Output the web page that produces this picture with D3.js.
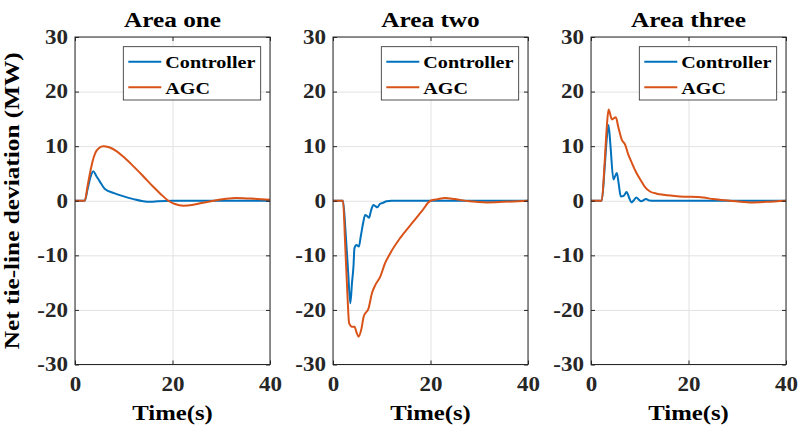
<!DOCTYPE html>
<html lang="en">
<head>
<meta charset="utf-8">
<title>Net tie-line deviation</title>
<script src="https://cdn.jsdelivr.net/npm/d3@7"></script>
<style>
body { margin: 0; background: white; }
text { font-family: "Liberation Serif", "Times New Roman", serif; font-weight: bold; }
</style>
</head>
<body>
<svg id="chart" width="798" height="426"></svg>
<script>

// ---- data ----
var panelTitles = ["Area one", "Area two", "Area three"]
var seriesNames = ["Controller", "AGC"]
var seriesColors = ["#0072BD", "#D95319"]
var xTicks = [0, 20, 40]
var yTicks = [-30, -20, -10, 0, 10, 20, 30]

// area one
var oneCtrlTime = [0, 2, 2.6, 3.2, 3.75, 4.4, 5.1, 6.2, 8, 10, 12, 14, 15.5, 17, 20, 40]
var oneCtrlVal  = [0, 0, 2.2, 4.4, 5.4, 4.5, 3.5, 2.1, 1.4, 0.8, 0.3, -0.1, -0.2, -0.1, 0, 0]
var oneAgcTime  = [0, 2, 2.6, 3.2, 3.6, 4.2, 5, 5.8, 7, 8.5, 10, 12, 14, 16, 17.5, 19, 20.5, 22.2, 24, 26, 29, 33, 36, 40]
var oneAgcVal   = [0, 0, 2.8, 5.6, 7.2, 8.8, 9.7, 10, 9.8, 9.1, 8.0, 6.3, 4.5, 2.6, 1.3, 0.1, -0.6, -0.9, -0.8, -0.4, 0.1, 0.5, 0.4, 0.2]

// area two
var twoCtrlTime = [0, 2.05, 2.6, 3.1, 3.55, 3.9, 4.2, 4.4, 4.8, 5.3, 5.7, 6.2, 6.6, 7.0, 7.4, 7.8, 8.3, 8.7, 9.1, 9.6, 10.2, 11, 12, 14, 20, 40]
var twoCtrlVal  = [0, 0, -6, -13, -18.8, -15, -12, -8.7, -8.1, -8.4, -6.5, -4.0, -2.6, -2.8, -3.1, -1.8, -0.8, -1.0, -1.2, -0.6, -0.4, -0.1, 0, 0, 0, 0]
var twoAgcTime  = [0, 2.05, 2.5, 3.0, 3.3, 3.9, 4.4, 4.9, 5.25, 5.8, 6.3, 7.3, 8.0, 8.7, 9.7, 10.7, 11.75, 13.8, 16.5, 18.3, 20, 21.5, 23, 25, 28, 31.6, 35, 40]
var twoAgcVal   = [0, 0, -8, -18, -22.4, -23.1, -23.1, -24.3, -24.9, -23.6, -21.2, -19.7, -16.9, -15.4, -13.9, -11.4, -9.6, -6.8, -3.8, -1.8, 0, 0.3, 0.5, 0.3, -0.1, -0.3, -0.2, 0]

// area three
var threeCtrlTime = [0, 2.2, 2.8, 3.2, 3.6, 4.0, 4.6, 5.0, 5.3, 5.7, 6.1, 6.7, 7.3, 7.8, 8.3, 8.8, 9.3, 9.8, 10.3, 11.3, 12, 13, 40]
var threeCtrlVal  = [0, 0, 6, 11, 13.9, 10, 3.9, 4.6, 5.1, 3.0, 0.8, 0.9, 1.6, 0.6, -0.3, 0.1, 0.6, 0.2, -0.1, 0.3, 0.05, 0, 0]
var threeAgcTime  = [0, 2.2, 2.8, 3.2, 3.6, 4.3, 5.1, 5.6, 6.3, 7.0, 7.6, 8.4, 9.2, 10.1, 11, 12.1, 13.5, 14.9, 18.2, 23, 25, 28.5, 32.6, 36, 40]
var threeAgcVal   = [0, 0, 7, 13, 16.7, 14.9, 15.3, 13.5, 11.2, 10.3, 8.6, 6.9, 5.3, 3.9, 2.6, 1.7, 1.3, 1.1, 0.8, 0.6, 0.3, 0, -0.3, -0.2, 0]

// ---- layout ----
var panelLefts = [75, 333, 591]
var panelWidth = 195
var plotTop = 37, plotBottom = 364.5
var stretch = 1.15   // text in the figure is wider than plain Times

var svg = d3.select("#chart")

// matlab prints a plain hyphen, not the unicode minus d3 uses
var plainNum = function(d){ return String(d) }

function wideText(sel, x, y, rotate){
  // place a text and widen it along its own direction
  var t = "translate(" + x + "," + y + ")"
  if (rotate) t += " rotate(" + rotate + ")"
  return sel.attr("transform", t + " scale(" + stretch + ",1)")
}

function drawPanel(i, ctrlT, ctrlV, agcT, agcV){
  var left = panelLefts[i]
  var right = left + panelWidth

  var x = d3.scaleLinear().domain([0, 40]).range([left, right])
  var y = d3.scaleLinear().domain([-30, 30]).range([plotBottom, plotTop])

  var g = svg.append("g").attr("class", "panel")

  // grid
  g.append("g")
    .attr("transform", "translate(0," + plotBottom + ")")
    .call(d3.axisBottom(x).tickValues(xTicks).tickSize(-(plotBottom - plotTop)).tickFormat(""))
    .call(function(a){ a.select(".domain").remove() })
    .selectAll("line").attr("stroke", "#e2e2e2")
  g.append("g")
    .attr("transform", "translate(" + left + ",0)")
    .call(d3.axisLeft(y).tickValues(yTicks).tickSize(-panelWidth).tickFormat(""))
    .call(function(a){ a.select(".domain").remove() })
    .selectAll("line").attr("stroke", "#e2e2e2")

  // curves
  var line = d3.line()
    .x(function(d){ return x(d[0]) })
    .y(function(d){ return y(d[1]) })
    .curve(d3.curveMonotoneX)

  var series = [d3.zip(ctrlT, ctrlV), d3.zip(agcT, agcV)]
  g.selectAll(".curve").data(series).enter().append("path")
    .attr("class", "curve")
    .attr("fill", "none")
    .attr("stroke", function(d, k){ return seriesColors[k] })
    .attr("stroke-width", 2)
    .attr("stroke-linejoin", "round")
    .attr("d", line)

  // axes, ticks pointing inward like matlab
  var xb = g.append("g")
    .attr("transform", "translate(0," + plotBottom + ")")
    .attr("color", "#262626")
    .call(d3.axisBottom(x).tickValues(xTicks).tickFormat(plainNum)
      .tickSizeInner(-4).tickSizeOuter(0).tickPadding(12))
  xb.attr("font-size", 20)
  xb.selectAll("text").attr("fill", "#262626").attr("transform", "scale(" + stretch + ",1)")

  var yl = g.append("g")
    .attr("transform", "translate(" + left + ",0)")
    .attr("color", "#262626")
    .call(d3.axisLeft(y).tickValues(yTicks).tickFormat(plainNum)
      .tickSizeInner(-4).tickSizeOuter(0).tickPadding(7))
  yl.attr("font-size", 20)
  yl.selectAll("text").attr("fill", "#262626")
    .attr("x", -7 / stretch)
    .attr("transform", "scale(" + stretch + ",1)")

  g.append("g")
    .attr("transform", "translate(0," + plotTop + ")")
    .attr("color", "#262626")
    .call(d3.axisTop(x).tickValues(xTicks).tickSizeInner(-4).tickSizeOuter(0).tickFormat(""))
  g.append("g")
    .attr("transform", "translate(" + right + ",0)")
    .attr("color", "#262626")
    .call(d3.axisRight(y).tickValues(yTicks).tickSizeInner(-4).tickSizeOuter(0).tickFormat(""))

  g.selectAll(".domain").remove()
  g.append("rect")
    .attr("x", left).attr("y", plotTop)
    .attr("width", panelWidth).attr("height", plotBottom - plotTop)
    .attr("fill", "none").attr("stroke", "#262626").attr("stroke-width", 1)

  // title and x label
  wideText(g.append("text"), (left + right) / 2, 27)
    .attr("text-anchor", "middle").attr("font-size", 22).attr("fill", "#000")
    .text(panelTitles[i])
  wideText(g.append("text"), (left + right) / 2, 420)
    .attr("text-anchor", "middle").attr("font-size", 21.5).attr("fill", "#000")
    .text("Time(s)")

  // legend
  var lx = right - 146.7, ly = plotTop + 9.7
  var leg = g.append("g")
  leg.append("rect")
    .attr("x", lx).attr("y", ly).attr("width", 137.4).attr("height", 53.3)
    .attr("fill", "white").attr("stroke", "#262626").attr("stroke-width", 0.8)
  seriesNames.forEach(function(name, k){
    var ry = ly + 15 + k * 25.6
    leg.append("line")
      .attr("x1", lx + 5).attr("x2", lx + 38)
      .attr("y1", ry).attr("y2", ry)
      .attr("stroke", seriesColors[k]).attr("stroke-width", 2)
    wideText(leg.append("text"), lx + 42, ry + 6.5)
      .attr("font-size", 17.5).attr("fill", "#000")
      .text(name)
  })
}

drawPanel(0, oneCtrlTime, oneCtrlVal, oneAgcTime, oneAgcVal)
drawPanel(1, twoCtrlTime, twoCtrlVal, twoAgcTime, twoAgcVal)
drawPanel(2, threeCtrlTime, threeCtrlVal, threeAgcTime, threeAgcVal)

// shared y label
wideText(svg.append("text"), 19, (plotTop + plotBottom) / 2, -90)
  .attr("text-anchor", "middle").attr("font-size", 22).attr("fill", "#000")
  .text("Net tie-line deviation (MW)")

</script>
</body>
</html>
